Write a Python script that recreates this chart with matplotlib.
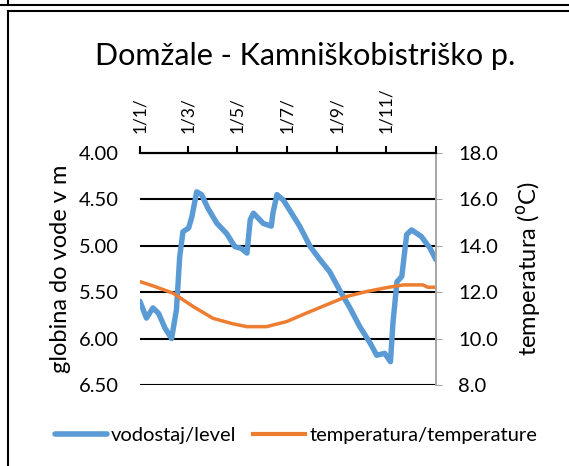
import numpy as np
import matplotlib.pyplot as plt
from matplotlib.lines import Line2D

plt.rcParams['font.family'] = ['Lato', 'DejaVu Sans']

# vodostaj / level (globina do vode, m) - dan v letu
dan_nivo = [0, 8, 16, 23, 31, 39, 45, 49, 53, 60, 64, 70, 76, 84, 95, 107, 117, 125,
            132, 136, 140, 152, 162, 164, 169, 177, 187, 197, 210, 222, 234, 247, 259,
            271, 284, 292, 302, 309, 312, 317, 323, 329, 335, 347, 358, 365]
nivo = [5.60, 5.78, 5.67, 5.73, 5.89, 6.00, 5.69, 5.12, 4.85, 4.81, 4.69, 4.42, 4.45,
        4.60, 4.76, 4.87, 5.01, 5.03, 5.08, 4.72, 4.65, 4.76, 4.79, 4.65, 4.45, 4.51,
        4.65, 4.79, 5.01, 5.15, 5.28, 5.49, 5.67, 5.87, 6.05, 6.18, 6.16, 6.25, 5.84,
        5.39, 5.33, 4.88, 4.83, 4.90, 5.03, 5.15]

# temperatura (°C)
dan_temp = [0, 16, 41, 66, 90, 115, 132, 156, 181, 205, 230, 255, 279, 304, 325, 349, 355, 365]
temp = [12.45, 12.27, 11.95, 11.37, 10.87, 10.63, 10.51, 10.51, 10.73, 11.09, 11.45,
        11.81, 12.02, 12.19, 12.31, 12.31, 12.21, 12.21]

meseci = [0, 59, 120, 181, 243, 304, 365]
mesec_oznake = ["1/1/", "1/3/", "1/5/", "1/7/", "1/9/", "1/11/", ""]

fig = plt.figure(figsize=(5.69, 4.66), dpi=100)
ax = fig.add_axes([0.246, 0.174, 0.520, 0.498])
ax2 = ax.twinx()

ax.plot(dan_nivo, nivo, color="#5B9BD5", linewidth=3.9, solid_capstyle="round",
        solid_joinstyle="round", zorder=3)
ax2.plot(dan_temp, temp, color="#ED7D31", linewidth=2.5, zorder=2)

ax.set_xlim(0, 365)
ax.set_ylim(6.5, 4.0)
ax.set_yticks([4.0, 4.5, 5.0, 5.5, 6.0, 6.5])
ax.set_yticklabels([f"{v:.2f}" for v in [4.0, 4.5, 5.0, 5.5, 6.0, 6.5]], fontsize=14.5)
ax.tick_params(axis="y", length=0, pad=15)
ax.grid(axis="y", color="black", linewidth=1.5)
ax.set_axisbelow(True)
ax.set_ylabel("globina do vode v m", fontsize=17)
ax.yaxis.set_label_coords(-0.232, 0.5)

ax.xaxis.tick_top()
ax.set_xticks(meseci)
ax.set_xticklabels(mesec_oznake, rotation=90, fontsize=12.5, va="bottom")
ax.tick_params(axis="x", length=5, width=1.5, color="black", pad=9)

ax2.set_ylim(8, 18)
ax2.set_yticks([8, 10, 12, 14, 16, 18])
ax2.set_yticklabels([f"{v:.1f}" for v in [8, 10, 12, 14, 16, 18]], fontsize=14.5)
ax2.tick_params(axis="y", length=4, color="#A6A6A6", pad=12)
ax2.set_ylabel(r"temperatura ($^{\mathrm{o}}$C)", fontsize=17)
ax2.yaxis.set_label_coords(1.268, 0.5)

for a in (ax, ax2):
    a.spines["left"].set_visible(False)
    a.spines["bottom"].set_visible(False)
    a.spines["top"].set_color("black")
    a.spines["top"].set_linewidth(1.5)
    a.spines["right"].set_color("#A6A6A6")
    a.spines["right"].set_linewidth(1.2)

fig.text(0.536, 0.880, "Domžale - Kamniškobistriško p.", fontsize=22,
         ha="center", va="center")

legenda = [Line2D([], [], color="#5B9BD5", linewidth=4, solid_capstyle="round"),
           Line2D([], [], color="#ED7D31", linewidth=3)]
fig.legend(legenda, ["vodostaj/level", "temperatura/temperature"], loc="center",
           bbox_to_anchor=(0.52, 0.066), ncol=2, frameon=False, fontsize=14.5,
           handlelength=2.6, handletextpad=0.2, columnspacing=0.8)

# okvirja grafov
fig.add_artist(Line2D([0, 1], [1 - 5 / 466, 1 - 5 / 466], color="black", linewidth=1.5))
fig.add_artist(Line2D([8 / 569, 8 / 569], [1, 1 - 5 / 466], color="black", linewidth=1.5))
fig.add_artist(Line2D([8 / 569, 1], [1 - 11 / 466, 1 - 11 / 466], color="black", linewidth=1.5))
fig.add_artist(Line2D([8 / 569, 8 / 569], [1 - 11 / 466, 0], color="black", linewidth=1.5))

fig.savefig("out.png", dpi=100)
